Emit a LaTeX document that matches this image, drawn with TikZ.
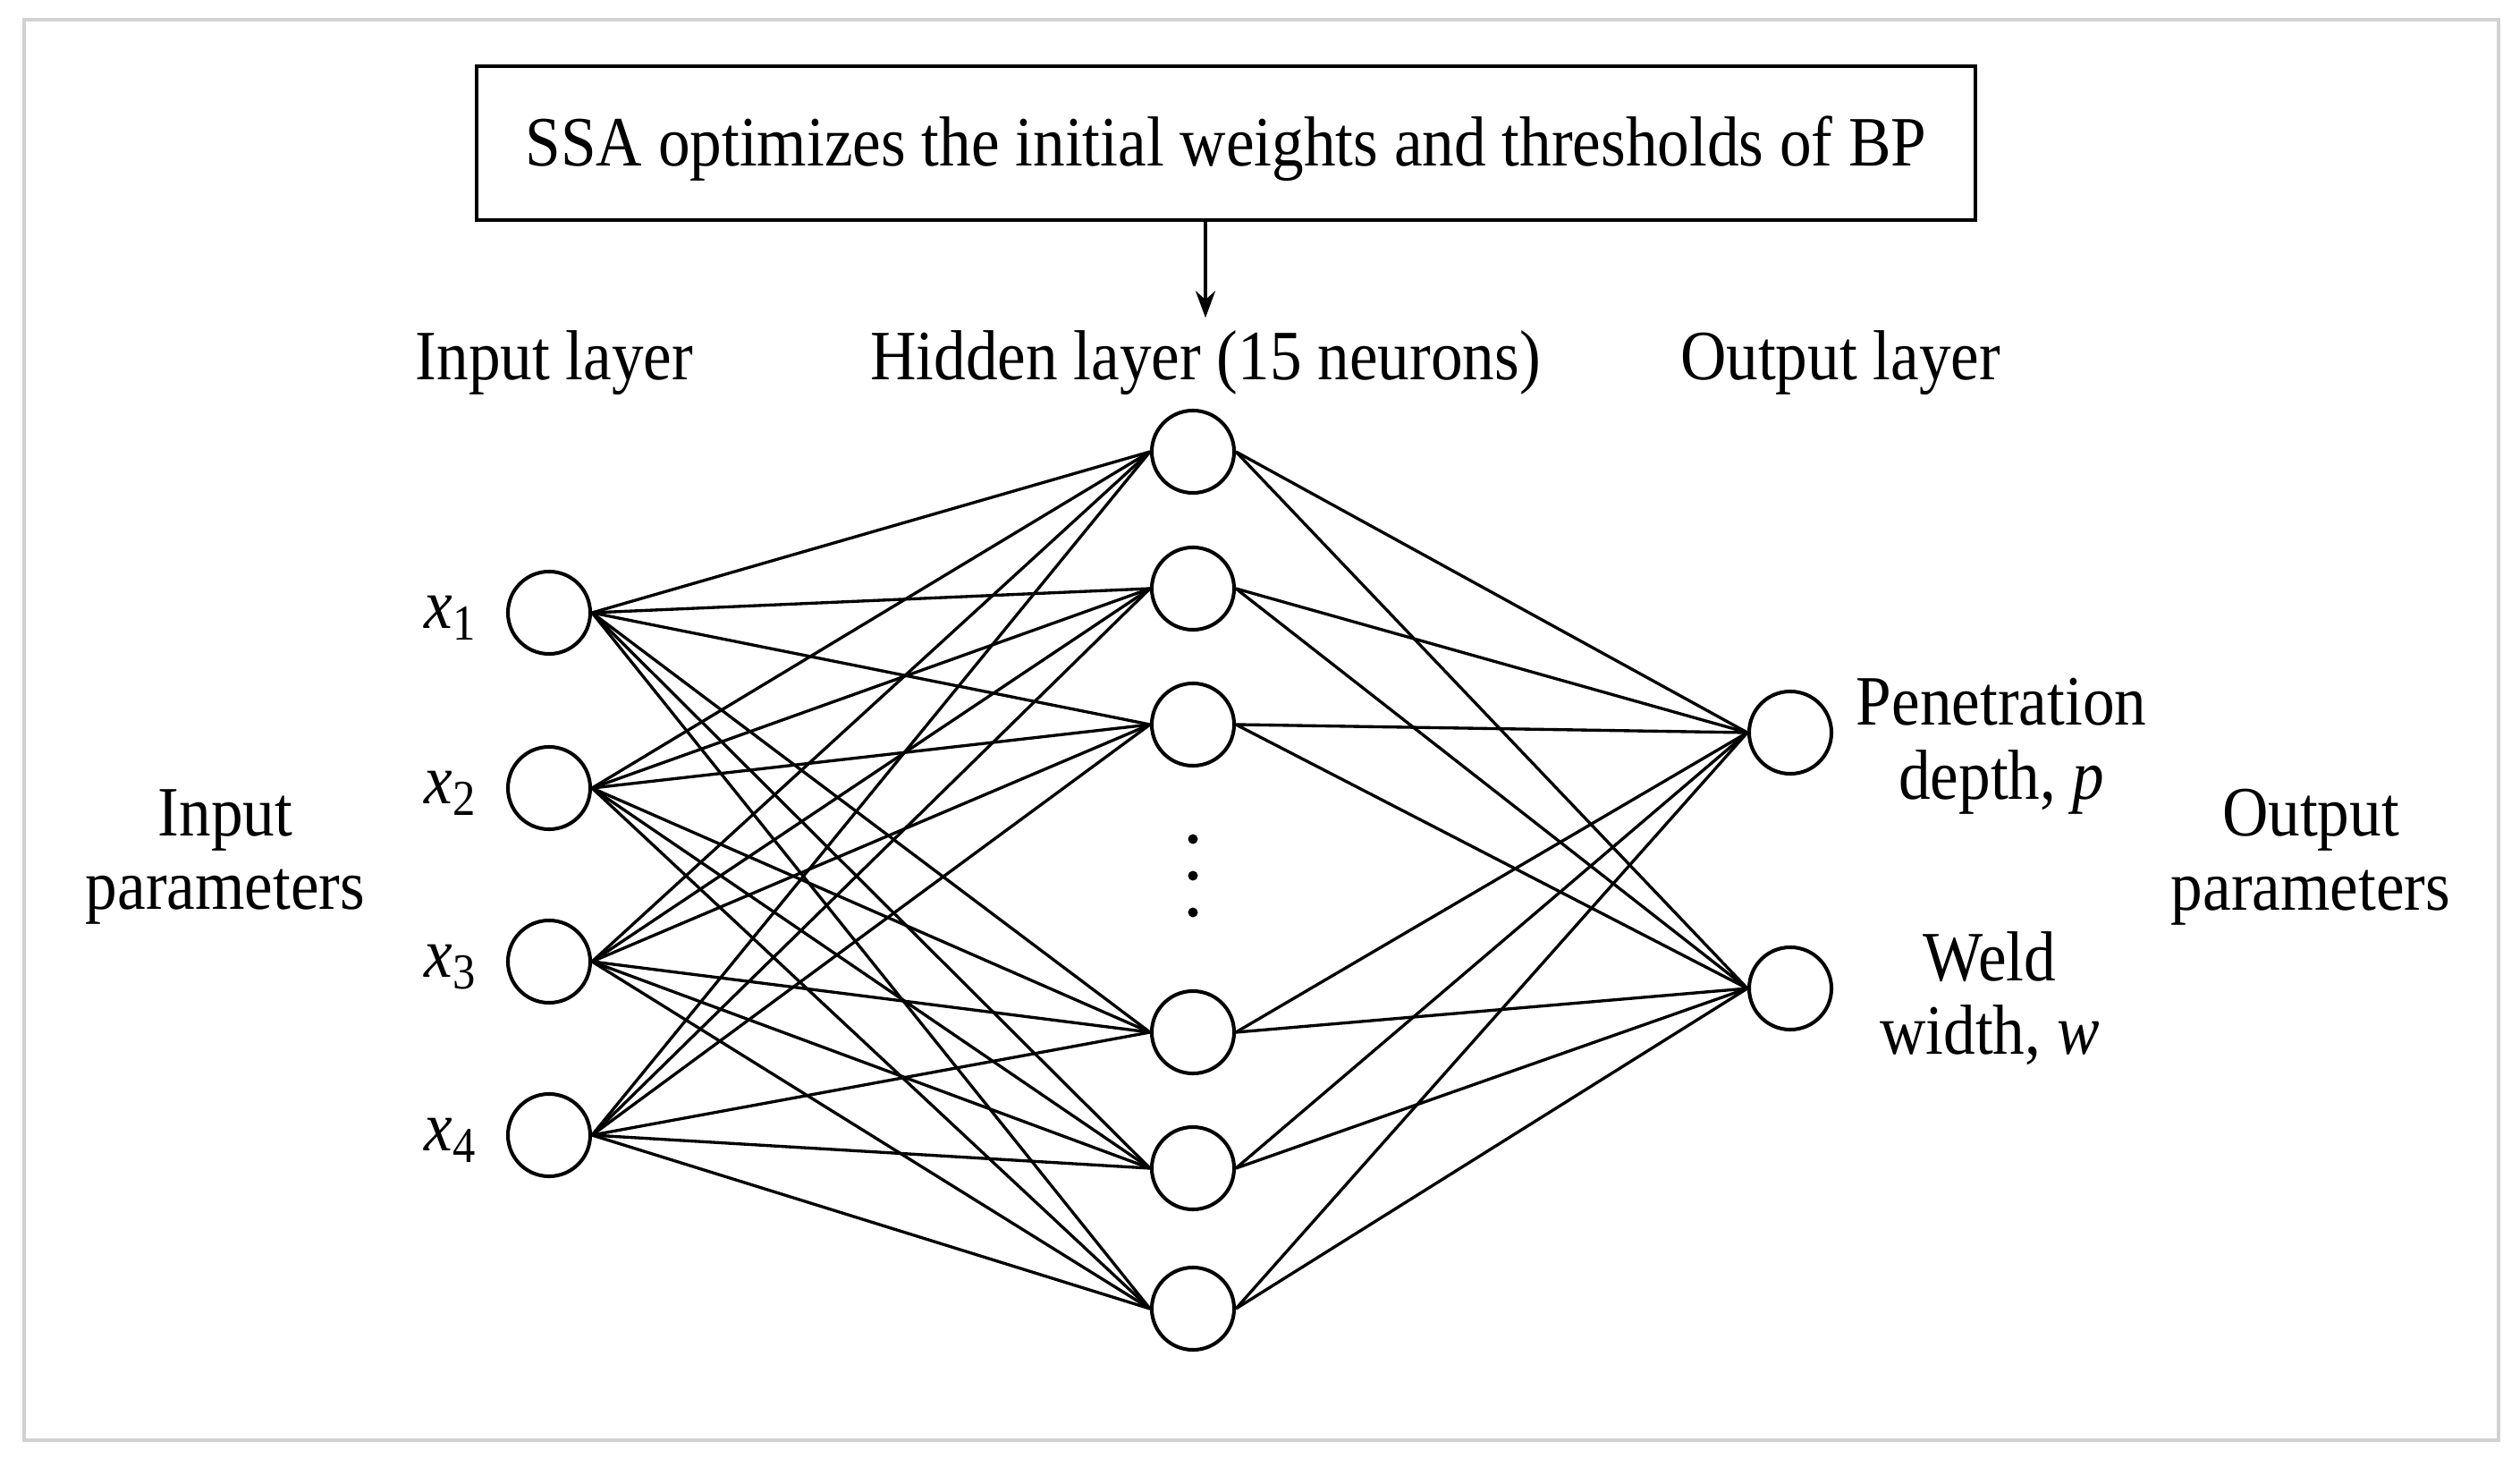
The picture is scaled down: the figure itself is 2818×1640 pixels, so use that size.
\documentclass[tikz,border=0pt]{standalone}
\usepackage{fontspec}
\setmainfont[FakeStretch=0.9]{Liberation Serif}
\usetikzlibrary{arrows.meta}
\newcommand{\xsub}[1]{\textit{x}\raisebox{-0.35ex}{\fontsize{16}{16}\selectfont #1}}
\begin{document}
\begin{tikzpicture}[x=0.01cm,y=-0.01cm,
  neuron/.style={circle, draw, line width=1.15pt, minimum size=0.92cm, inner sep=0pt},
  lbl/.style={font=\fontsize{22.5}{23.5}\selectfont, align=center, inner sep=0pt},
  conn/.style={line width=0.95pt},
  frame/.style={draw=black!18, line width=1.3pt}]
\useasboundingbox (0,0) rectangle (2818,1640);
\draw[frame] (27,22) rectangle (2794,1610);

% top box
\node[draw, line width=1.15pt, minimum width=16.75cm, minimum height=1.71cm] (ssa) at (1371,160) {};
\node[lbl] (ssat) at (1371,166) {SSA optimizes the initial weights and thresholds of BP};

% layer titles
\node[lbl] (il) at (620,406) {Input layer};
\node[lbl] (hl) at (1348,406) {Hidden layer (15 neurons)};
\node[lbl] (ol) at (2058,406) {Output layer};

\draw[line width=1.15pt, -{Stealth[length=0.3cm,width=0.22cm]}] (ssa.south -| hl.north) -- ([yshift=0.14cm]hl.north);

% input neurons
\foreach \i/\y in {1/685, 2/881, 3/1075, 4/1269} {
  \node[neuron] (i\i) at (614,\y) {};
  \node[lbl] (xl\i) at (503,\y+6) {\xsub{\i}};
}
% hidden neurons
\foreach \j/\y in {1/505, 2/658, 3/810, 4/1154, 5/1306, 6/1463} {
  \node[neuron] (h\j) at (1334,\y) {};
}
% output neurons
\node[neuron] (o1) at (2002,819) {};
\node[neuron] (o2) at (2002,1105) {};

% dots
\foreach \y in {938, 979, 1020} \fill (1334,\y) circle (0.055cm);

% connections
\foreach \i in {1,...,4} \foreach \j in {1,...,6} \draw[conn] (i\i.east) -- (h\j.west);
\foreach \j in {1,...,6} \foreach \k in {1,2} \draw[conn] (h\j.east) -- (o\k.west);

% side labels
\node[lbl] (inp) at (252,958) {Input\\parameters};
\node[lbl] (pd) at (2238,834) {Penetration\\depth, \textit{p}};
\node[lbl] (ww) at (2225,1116) {Weld\\width, \textit{w}};
\node[lbl] (outp) at (2584,958) {Output\\parameters};
\end{tikzpicture}
\end{document}
